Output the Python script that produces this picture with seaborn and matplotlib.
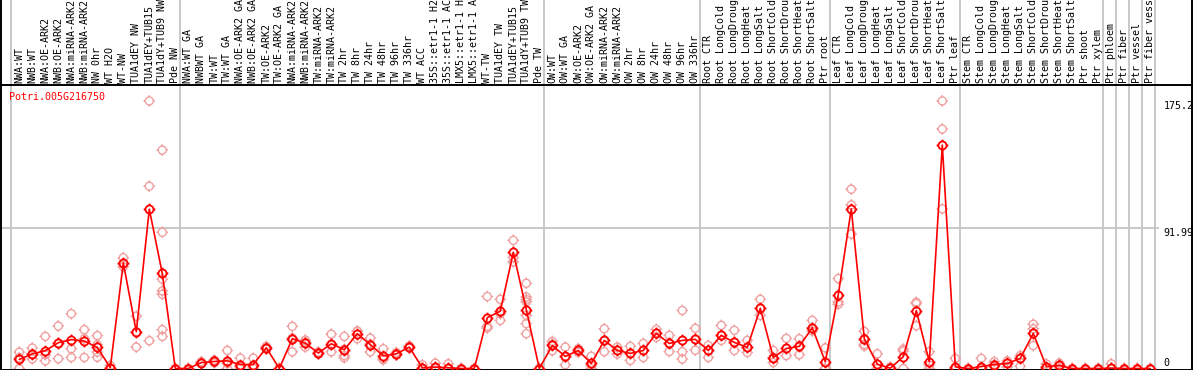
import numpy as np
import pandas as pd
import matplotlib
matplotlib.use("Agg")
import matplotlib.pyplot as plt
from matplotlib.path import Path
import seaborn as sns

# sample labels (column headers)
labels = ["NWA:WT", "NWB:WT", "NWA:OE-ARK2", "NWB:OE-ARK2", "NWA:miRNA-ARK2", "NWB:miRNA-ARK2",
          "NW 0hr", "WT H2O", "WT-NW", "TUA1dEY NW", "TUA1dEY+TUB15", "TUA1dY+TUB9 NW", "Pde NW",
          "NWA:WT GA", "NWBWT GA", "TW:WT", "TW:WT GA", "NWA:OE-ARK2 GA", "NWB:OE-ARK2 GA",
          "TW:OE-ARK2", "TW:OE-ARK2 GA", "NWA:miRNA-ARK2", "NWB:miRNA-ARK2", "TW:miRNA-ARK2",
          "TW:miRNA-ARK2", "TW 2hr", "TW 8hr", "TW 24hr", "TW 48hr", "TW 96hr", "TW 336hr",
          "WT ACC", "35S::etr1-1 H2O", "35S::etr1-1 ACC", "LMX5::etr1-1 H2O", "LMX5::etr1-1 ACC",
          "WT-TW", "TUA1dEY TW", "TUA1dEY+TUB15", "TUA1dY+TUB9 TW", "Pde TW",
          "OW:WT", "OW:WT GA", "OW:OE-ARK2", "OW:OE-ARK2 GA", "OW:miRNA-ARK2", "OW:miRNA-ARK2",
          "OW 2hr", "OW 8hr", "OW 24hr", "OW 48hr", "OW 96hr", "OW 336hr",
          "Root CTR", "Root LongCold", "Root LongDrought", "Root LongHeat", "Root LongSalt",
          "Root ShortCold", "Root ShortDrought", "Root ShortHeat", "Root ShortSalt", "Ptr root",
          "Leaf CTR", "Leaf LongCold", "Leaf LongDrought", "Leaf LongHeat", "Leaf LongSalt",
          "Leaf ShortCold", "Leaf ShortDrought", "Leaf ShortHeat", "Leaf ShortSalt", "Ptr leaf",
          "Stem CTR", "Stem LongCold", "Stem LongDrought", "Stem LongHeat", "Stem LongSalt",
          "Stem ShortCold", "Stem ShortDrought", "Stem ShortHeat", "Stem ShortSalt",
          "Ptr shoot", "Ptr xylem", "Ptr phloem", "Ptr fiber", "Ptr vessel", "Ptr fiber vessel"]

# mean expression per sample
means = [5.9, 9.6, 11.6, 16.9, 18.9, 18.0, 13.8, 0.5, 69.2, 24.1, 104.3, 62.2, 0,
         0, 3.9, 4.6, 5.0, 2.6, 2.6, 13.6, 0, 19.5, 16.6, 10.1, 16.2, 12.3, 22.8, 15.6, 8.3,
         9.6, 14.0, 0.5, 0.9, 0.5, 0, 0, 33.3, 37.5, 76.0, 38.6, 0,
         15.1, 7.9, 11.8, 3.3, 18.4, 11.8, 9.9, 11.8, 23.0, 16.4, 18.4, 19.1,
         11.8, 21.7, 17.1, 13.8, 39.4, 7.2, 13.1, 14.5, 26.7, 4.4,
         48.4, 104.5, 19.5, 2.8, 0.2, 7.7, 37.9, 4.4, 146.3, 1.1,
         0, 1.3, 2.6, 3.3, 6.6, 23.0, 1.3, 2.0, 0,
         0, 0, 0.2, 0, 0, 0]

# individual replicates per sample
reps = [[10.7, 7.0, 0], [13.4, 9.5, 6.3], [21.0, 9.0, 5.0], [27.8, 16.5, 6.4], [35.9, 12.9, 7.2],
        [25.4, 19.5, 7.2], [21.5, 15.6, 10.7, 7.4], [2.0, 0, 0], [72.5, 68.5, 66.6], [34.2, 24.1, 14.0],
        [175.2, 119.4, 18.2], [143.0, 89.2, 58.5, 50.8, 48.6, 25.4, 21.0], [0, 0, 0],
        [0, 0, 0], [4.5, 3.9, 3.3], [5.5, 4.6, 3.7], [11.8, 3.3, 0], [6.8, 1.0, 0], [6.8, 1.0, 0],
        [14.5, 13.6, 12.7], [0, 0, 0], [27.6, 20.0, 10.9], [18.6, 17.2, 14.0], [10.8, 10.1, 9.4],
        [22.5, 15.2, 10.9], [21.0, 12.5, 8.5, 7.0], [24.5, 24.4, 19.5], [19.9, 16.0, 10.9],
        [12.9, 6.3, 5.7], [10.5, 9.6, 8.7], [14.8, 14.0, 13.2], [2.4, 0, 0], [3.5, 0, 0],
        [3.1, 0, 0], [0, 0, 0], [0, 0, 0], [47.1, 27.6, 26.5], [45.3, 35.8, 31.5],
        [83.9, 72.7, 69.8], [55.8, 46.8, 45.1, 43.6, 34.8, 29.4, 22.8], [0, 0, 0],
        [17.7, 15.9, 11.6], [14.0, 7.3, 2.4], [13.0, 11.8, 10.6], [8.0, 2.0, 0], [26.0, 18.0, 11.0],
        [14.0, 11.8, 9.5], [14.5, 9.9, 5.3], [16.4, 11.8, 7.2], [25.6, 23.0, 20.4],
        [21.7, 16.4, 11.1], [38.0, 11.0, 6.2], [26.3, 19.1, 12.0],
        [15.1, 11.8, 7.2], [28.2, 21.7, 18.4], [25.0, 17.1, 11.8], [18.4, 13.8, 10.5],
        [45.3, 39.4, 34.8], [11.8, 7.2, 3.9], [19.7, 13.1, 8.5], [19.5, 15.0, 9.0],
        [31.5, 26.7, 24.5], [13.5, 0, 0],
        [58.9, 43.6, 42.0], [117.4, 107.1, 88.0], [24.3, 19.5, 15.8, 14.7], [9.6, 0, 0],
        [0.9, 0, 0], [12.7, 11.4, 0], [43.4, 42.5, 28.0], [11.0, 2.2, 0], [175.2, 156.8, 104.5],
        [6.6, 0, 0],
        [0, 0, 0], [6.6, 0, 0], [4.5, 2.6, 1.0], [5.0, 3.3, 1.0], [8.5, 6.6, 1.5], [29.0, 26.0, 15.0],
        [3.0, 1.0, 0], [3.5, 2.0, 0.5], [0, 0, 0],
        [0, 0, 0], [0, 0, 0], [3.1, 0, 0], [0, 0, 0], [0, 0, 0], [0, 0, 0]]

# group separators (after these column indices)
separators = [-1, 12, 40, 52, 62, 72, 83, 84, 85, 86, 87]
ytick_vals = [175.2, 91.99, 0]
ytick_text = ["175.2", "91.99", "0"]
gene = "Potri.005G216750"

x = np.arange(len(labels))
rep_df = pd.DataFrame([(i, v) for i, r in enumerate(reps) for v in r], columns=["sample", "value"])

# circle marker with little ticks on 4 sides
circ = Path.unit_circle()
ticks = Path([[0, 1], [0, 1.45], [0, -1], [0, -1.45], [1, 0], [1.45, 0], [-1, 0], [-1.45, 0]],
             [Path.MOVETO, Path.LINETO] * 4)
mk = Path.make_compound_path(circ, ticks)

sns.set_style("white")
plt.rcParams["font.family"] = ["DejaVu Sans Mono"]

W, H = 1194, 370
fig = plt.figure(figsize=(W / 100, H / 100), dpi=100)
left, right = 1 / W, 1192 / W
hdr_px = 85
hdr = fig.add_axes([left, (H - hdr_px) / H, right - left, hdr_px / H])
ax = fig.add_axes([left, 0.5 / H, right - left, (H - hdr_px - 0.5) / H])

xlim = ((1 - 19.3) / 13, (1192 - 19.3) / 13)
px = 140.5 / 91.99
ax.set_xlim(*xlim)
ax.set_ylim(-1.0 / px, (368.5 - hdr_px) / px)
hdr.set_xlim(*xlim)
hdr.set_ylim(0, 1)

for a in (ax, hdr):
    a.set_xticks([])
    a.set_yticks([])
    a.set_xlabel("")
    a.set_ylabel("")
    for s in a.spines.values():
        s.set_color("black")
        s.set_linewidth(1.4)
    for sx in separators:
        a.axvline(sx + 0.38, color="#c4c4c4", lw=1.3, zorder=0)
hdr.spines["top"].set_visible(False)
hdr.spines["bottom"].set_visible(False)

for i, lab in enumerate(labels):
    hdr.text(i, 2 / hdr_px, lab, rotation=90, ha="center", va="bottom", fontsize=7.2, color="black")

ax.hlines(91.99, xlim[0], 87.7, color="#c4c4c4", lw=1.3, zorder=0)

sns.scatterplot(data=rep_df, x="sample", y="value", ax=ax, marker=mk, s=70,
                facecolors="none", edgecolor="#f0a0a0", linewidth=1.0, zorder=2, legend=False)
sns.lineplot(x=x, y=means, ax=ax, color="red", lw=1.2, marker=mk, markersize=8.4,
             markerfacecolor="none", markeredgecolor="red", markeredgewidth=1.3, zorder=3,
             estimator=None)
ax.set_xlabel("")
ax.set_ylabel("")

for v, t in zip(ytick_vals, ytick_text):
    ax.text(88.0, v, t, fontsize=7.2, ha="left", va="bottom" if v == 0 else "top", color="black")

ax.text(0.007, 0.975, gene, transform=ax.transAxes, color="red", fontsize=7.2, ha="left", va="top")

fig.savefig("out.png", dpi=100)
